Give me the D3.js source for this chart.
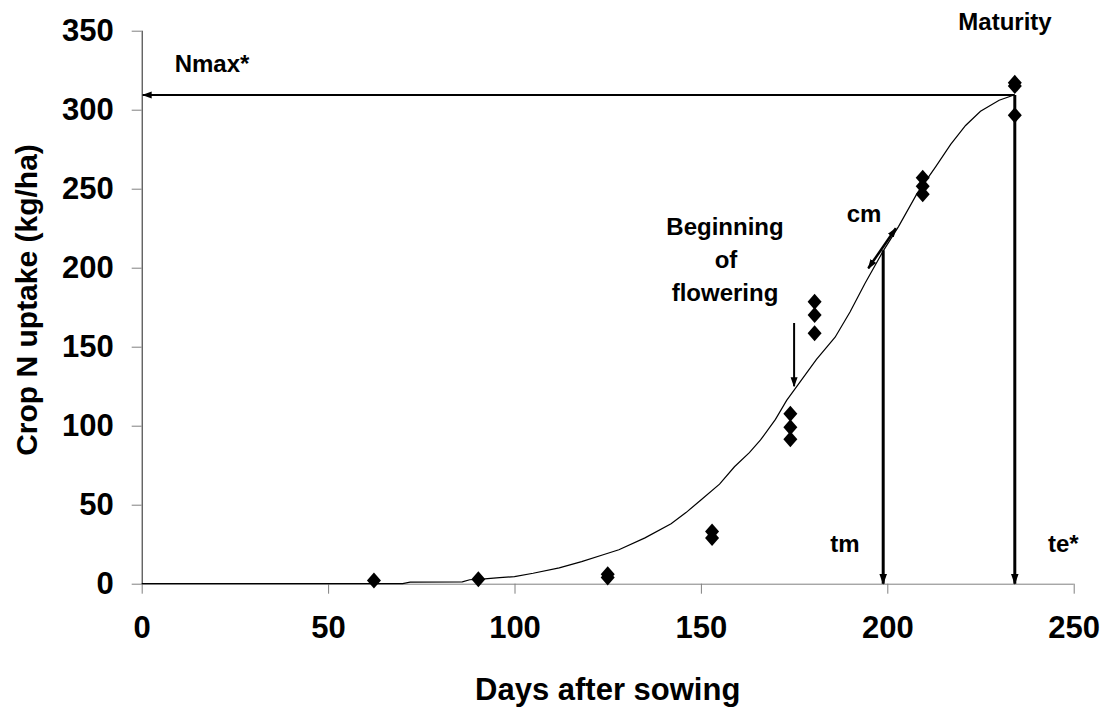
<!DOCTYPE html>
<html>
<head>
<meta charset="utf-8">
<script src="https://cdn.jsdelivr.net/npm/d3@7"></script>
<style>
body { margin: 0; background: #fff; }
text { font-family: "Liberation Sans", Arial, sans-serif; font-weight: bold; fill: #000; }
</style>
</head>
<body>
<div id="chart"></div>
<script>
// observed crop N uptake (days after sowing, kg/ha)
const obsDay = [62.3, 90.3, 125, 125, 153, 153, 174, 174, 174, 180.5, 180.5, 180.5, 209.5, 209.5, 209.5, 234.2, 234.2, 234.2];
const obsN   = [2, 2.8, 4, 6, 33, 29, 107.5, 99, 91.5, 178.5, 170, 158.5, 257, 251.5, 246.5, 317, 315, 296.5];

// fitted curve
const curveDay = [0, 70, 72, 86, 88, 92, 96, 100, 105, 112, 118, 124, 128, 135, 142, 146, 150, 155, 159, 163, 166, 170, 173, 177, 181, 186, 190, 194, 199, 203, 208, 213, 217, 221, 225, 230, 234];
const curveN   = [0, 0, 1, 1.2, 2.5, 3, 3.8, 4.5, 6.6, 10, 14, 18.5, 21.5, 29, 38, 45, 53, 63, 74, 83, 91, 104, 116, 129, 142, 156, 172, 190, 211, 226, 247, 264, 278, 290, 299, 306, 309.3];

const xTicks = [0, 50, 100, 150, 200, 250];
const yTicks = [0, 50, 100, 150, 200, 250, 300, 350];

// key parameters
const nMax = 309.3, tm = 198.9, te = 234.2, tmN = 211;
const flowerDay = 175, flowerFrom = 165, flowerTo = 125;
const cmFrom = [194.9, 199.6], cmTo = [202.3, 225];

const width = 1107, height = 708;
const svg = d3.select("#chart").append("svg").attr("width", width).attr("height", height);

const x = d3.scaleLinear().domain([0, 250]).range([141.7, 1073.7]);
const y = d3.scaleLinear().domain([0, 350]).range([583.7, 30.7]);

// markers
const defs = svg.append("defs");
function marker(id, size) {
  defs.append("marker").attr("id", id)
    .attr("viewBox", "0 0 10 10").attr("refX", 9).attr("refY", 5)
    .attr("markerWidth", size).attr("markerHeight", size)
    .attr("markerUnits", "userSpaceOnUse")
    .attr("orient", "auto-start-reverse")
    .append("path").attr("d", "M0,1.5 L10,5 L0,8.5 Z").attr("fill", "#000");
}
marker("arr", 11);
marker("arrS", 10);

// axes
const xAxis = svg.append("g").attr("transform", "translate(0," + y(0) + ")")
  .call(d3.axisBottom(x).tickValues(xTicks).tickSize(10).tickPadding(22).tickFormat(d3.format("d")));
xAxis.selectAll("path,line").attr("stroke", "#808080");
xAxis.select(".domain").attr("d", "M" + x(0) + ",0.5H" + x(250));
xAxis.selectAll("text").style("font-size", "31px").style("font-family", "'Liberation Sans', Arial").style("font-weight", "bold");

const yAxis = svg.append("g").attr("transform", "translate(" + x(0) + ",0)")
  .call(d3.axisLeft(y).tickValues(yTicks).tickSize(10).tickPadding(18).tickFormat(d3.format("d")));
yAxis.selectAll("line").attr("stroke", "#808080");
yAxis.select(".domain").attr("stroke", "#202020").attr("d", "M0.5," + y(0) + "V" + y(350));
yAxis.selectAll("text").style("font-size", "31px").style("font-family", "'Liberation Sans', Arial").style("font-weight", "bold");

svg.append("text").attr("x", (x(0) + x(250)) / 2).attr("y", 700)
  .attr("text-anchor", "middle").style("font-size", "31px").text("Days after sowing");
svg.append("text").attr("transform", "translate(37," + 300 + ") rotate(-90)")
  .attr("text-anchor", "middle").style("font-size", "30px").text("Crop N uptake (kg/ha)");

// curve
const curve = curveDay.map((d, i) => [d, curveN[i]]);
svg.append("path").datum(curve)
  .attr("fill", "none").attr("stroke", "#000").attr("stroke-width", 1.2)
  .attr("d", d3.line().x(d => x(d[0])).y(d => y(d[1])));

// annotation lines
svg.append("line").attr("x1", x(te)).attr("x2", x(0) + 1).attr("y1", y(nMax)).attr("y2", y(nMax))
  .attr("stroke", "#000").attr("stroke-width", 2).attr("marker-end", "url(#arrS)");
svg.append("line").attr("x1", x(te)).attr("x2", x(te)).attr("y1", y(nMax)).attr("y2", y(0))
  .attr("stroke", "#000").attr("stroke-width", 3).attr("marker-end", "url(#arr)");
svg.append("line").attr("x1", x(tm)).attr("x2", x(tm)).attr("y1", y(tmN)).attr("y2", y(0))
  .attr("stroke", "#000").attr("stroke-width", 3).attr("marker-end", "url(#arr)");
svg.append("line").attr("x1", x(flowerDay)).attr("x2", x(flowerDay)).attr("y1", y(flowerFrom)).attr("y2", y(flowerTo))
  .attr("stroke", "#000").attr("stroke-width", 2).attr("marker-end", "url(#arrS)");
svg.append("line").attr("x1", x(cmFrom[0])).attr("y1", y(cmFrom[1])).attr("x2", x(cmTo[0])).attr("y2", y(cmTo[1]))
  .attr("stroke", "#000").attr("stroke-width", 2.5)
  .attr("marker-start", "url(#arrS)").attr("marker-end", "url(#arrS)");

// observations
const obs = obsDay.map((d, i) => [d, obsN[i]]);
svg.selectAll(".obs").data(obs).enter().append("path")
  .attr("class", "obs")
  .attr("transform", d => "translate(" + x(d[0]) + "," + y(d[1]) + ")")
  .attr("d", "M0,-8 L7,0 L0,8 L-7,0 Z")
  .attr("fill", "#000");

// labels
function label(txt, px, py, anchor) {
  svg.append("text").attr("x", px).attr("y", py).attr("text-anchor", anchor || "middle")
    .style("font-size", "24px").text(txt);
}
label("Maturity", 1005, 30);
label("Nmax*", 212, 72);
label("Beginning", 725, 235);
label("of", 726, 268);
label("flowering", 725, 301);
label("cm", 864, 222);
label("tm", 845, 552);
label("te*", 1048, 552, "start");
</script>
</body>
</html>
